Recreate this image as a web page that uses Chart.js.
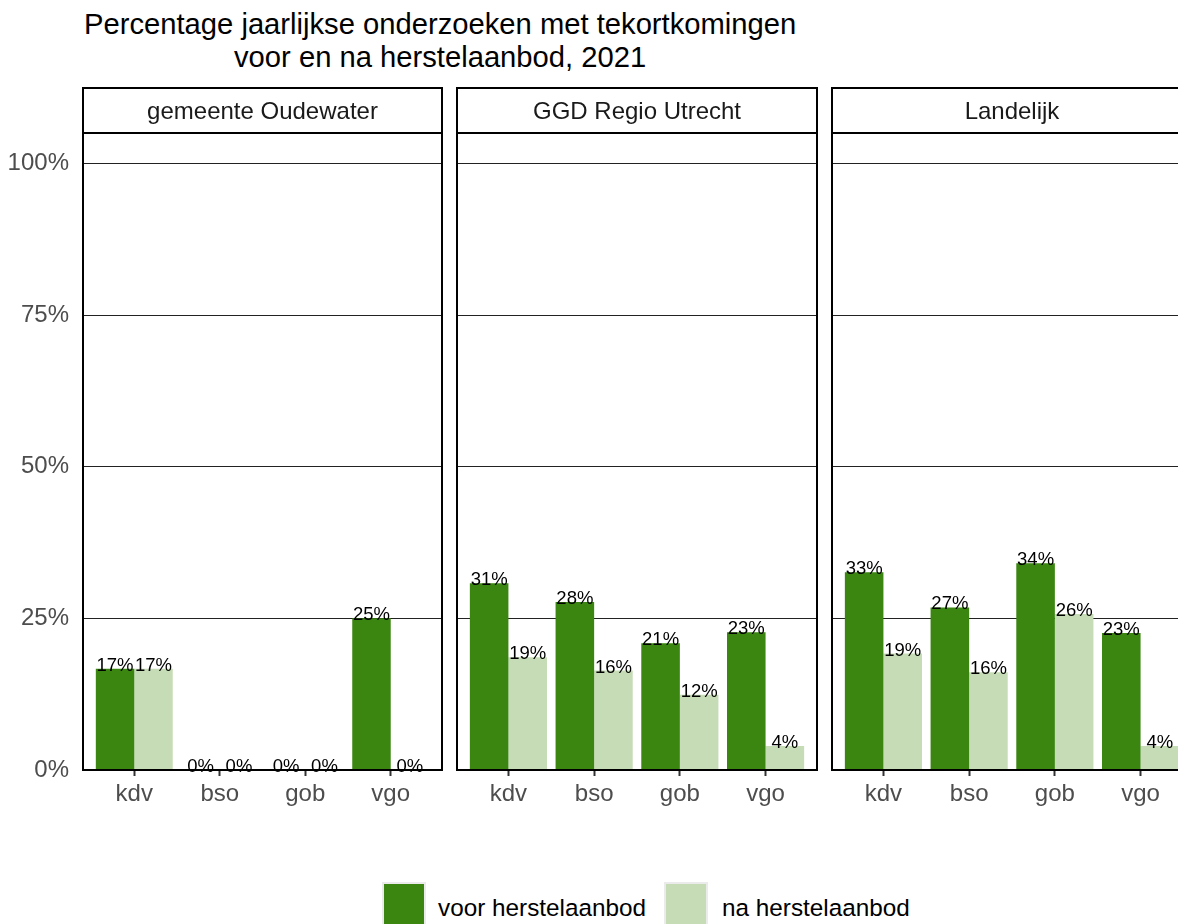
<!DOCTYPE html>
<html>
<head>
<meta charset="utf-8">
<script src="https://cdn.jsdelivr.net/npm/chart.js@4.4.1/dist/chart.umd.min.js"></script>
<style>
  body { margin: 0; width: 1178px; height: 924px; overflow: hidden; background: #fff; position: relative;
         font-family: "Liberation Sans", Arial, sans-serif; }
  canvas { position: absolute; top: 80px; }
  #titel { position: absolute; left: 84px; top: 8px; font-size: 29.2px; line-height: 33px; text-align: center; color: #000; white-space: nowrap; }
  .sleutel { position: absolute; top: 882px; width: 44px; height: 44px; box-sizing: border-box; border: 2px solid #ebebeb; }
  .tekst { position: absolute; top: 894px; font-size: 24.3px; line-height: 28px; color: #000; white-space: nowrap; }
</style>
</head>
<body>
<div id="titel">Percentage jaarlijkse onderzoeken met tekortkomingen<br>voor en na herstelaanbod, 2021</div>

<canvas id="paneel1" width="444" height="730" style="left:0px"></canvas>
<canvas id="paneel2" width="364" height="730" style="left:455px"></canvas>
<canvas id="paneel3" width="364" height="730" style="left:830px"></canvas>

<div class="sleutel" style="left:382px;background:#3b8610"></div>
<div class="tekst" style="left:438px">voor herstelaanbod</div>
<div class="sleutel" style="left:664px;background:#c6dcb6"></div>
<div class="tekst" style="left:722px">na herstelaanbod</div>

<script>
// gegevens
const categorieen = ['kdv', 'bso', 'gob', 'vgo'];
const panelen = ['gemeente Oudewater', 'GGD Regio Utrecht', 'Landelijk'];
const reeksen = ['voor herstelaanbod', 'na herstelaanbod'];
const yTicks = [0, 25, 50, 75, 100];

const voorOudewater = [16.7, 0, 0, 25.0];
const naOudewater   = [16.7, 0, 0, 0];
const voorGGD       = [30.8, 27.7, 20.9, 22.7];
const naGGD         = [18.6, 16.4, 12.4, 3.95];
const voorLandelijk = [32.6, 26.8, 34.1, 22.6];
const naLandelijk   = [19.2, 16.1, 25.7, 3.95];

const kleuren = ['#3b8610', '#c6dcb6'];

// strip boven het paneel, rand eromheen en de labels boven de staven
const paneelPlugin = {
  id: 'paneel',
  afterDatasetsDraw(chart) {
    const ctx = chart.ctx;
    ctx.save();
    ctx.font = '18.5px "Liberation Sans", Arial, sans-serif';
    ctx.fillStyle = '#000';
    ctx.textAlign = 'center';
    ctx.textBaseline = 'alphabetic';
    chart.data.datasets.forEach((ds, i) => {
      chart.getDatasetMeta(i).data.forEach((bar, j) => {
        ctx.fillText(Math.round(ds.data[j].y) + '%', bar.x, bar.y + 2);
      });
    });
    ctx.restore();
  },
  afterDraw(chart) {
    const ctx = chart.ctx;
    const a = chart.chartArea;
    ctx.save();
    ctx.lineWidth = 2;
    ctx.strokeStyle = '#000';
    ctx.strokeRect(a.left, a.top, a.right - a.left, a.bottom - a.top);
    ctx.fillStyle = '#fff';
    ctx.fillRect(a.left, a.top - 45, a.right - a.left, 45);
    ctx.strokeRect(a.left, a.top - 45, a.right - a.left, 45);
    ctx.fillStyle = '#1a1a1a';
    ctx.font = '24px "Liberation Sans", Arial, sans-serif';
    ctx.textAlign = 'center';
    ctx.textBaseline = 'middle';
    ctx.fillText(chart.options.plugins.paneel.strip, (a.left + a.right) / 2, a.top - 21);
    ctx.restore();
  }
};

function maakGrafiek(id, strip, voor, na, metYas) {
  new Chart(document.getElementById(id), {
    type: 'bar',
    data: {
      datasets: [voor, na].map((waarden, k) => ({
        label: reeksen[k],
        data: waarden.map((v, i) => ({ x: i, y: v })),
        backgroundColor: kleuren[k],
        categoryPercentage: 0.9,
        barPercentage: 1.0
      }))
    },
    options: {
      responsive: false,
      animation: false,
      layout: { padding: { top: 53, right: 2, left: 0, bottom: 0 } },
      plugins: {
        legend: { display: false },
        title: { display: false },
        tooltip: { enabled: false },
        paneel: { strip: strip }
      },
      scales: {
        x: {
          type: 'linear',
          min: -0.6,
          max: 3.6,
          offset: false,
          afterBuildTicks: s => { s.ticks = categorieen.map((c, i) => ({ value: i })); },
          afterFit: s => { s.height = 40; },
          border: { display: false },
          grid: { display: true, offset: false, drawOnChartArea: false, drawTicks: true, tickLength: 6, tickColor: '#333', tickWidth: 2 },
          ticks: {
            padding: 4,
            color: '#4d4d4d',
            font: { size: 24, family: '"Liberation Sans", Arial, sans-serif' },
            callback: v => categorieen[v]
          }
        },
        y: {
          min: 0,
          max: 105,
          afterBuildTicks: s => { s.ticks = yTicks.map(v => ({ value: v })); },
          afterFit: s => { s.width = metYas ? 83 : 2; },
          border: { display: false },
          grid: { color: '#222', lineWidth: 1, drawTicks: false },
          ticks: {
            display: metYas,
            padding: 14,
            color: '#4d4d4d',
            font: { size: 24, family: '"Liberation Sans", Arial, sans-serif' },
            callback: v => v + '%'
          }
        }
      }
    },
    plugins: [paneelPlugin]
  });
}

maakGrafiek('paneel1', panelen[0], voorOudewater, naOudewater, true);
maakGrafiek('paneel2', panelen[1], voorGGD, naGGD, false);
maakGrafiek('paneel3', panelen[2], voorLandelijk, naLandelijk, false);
</script>
</body>
</html>
